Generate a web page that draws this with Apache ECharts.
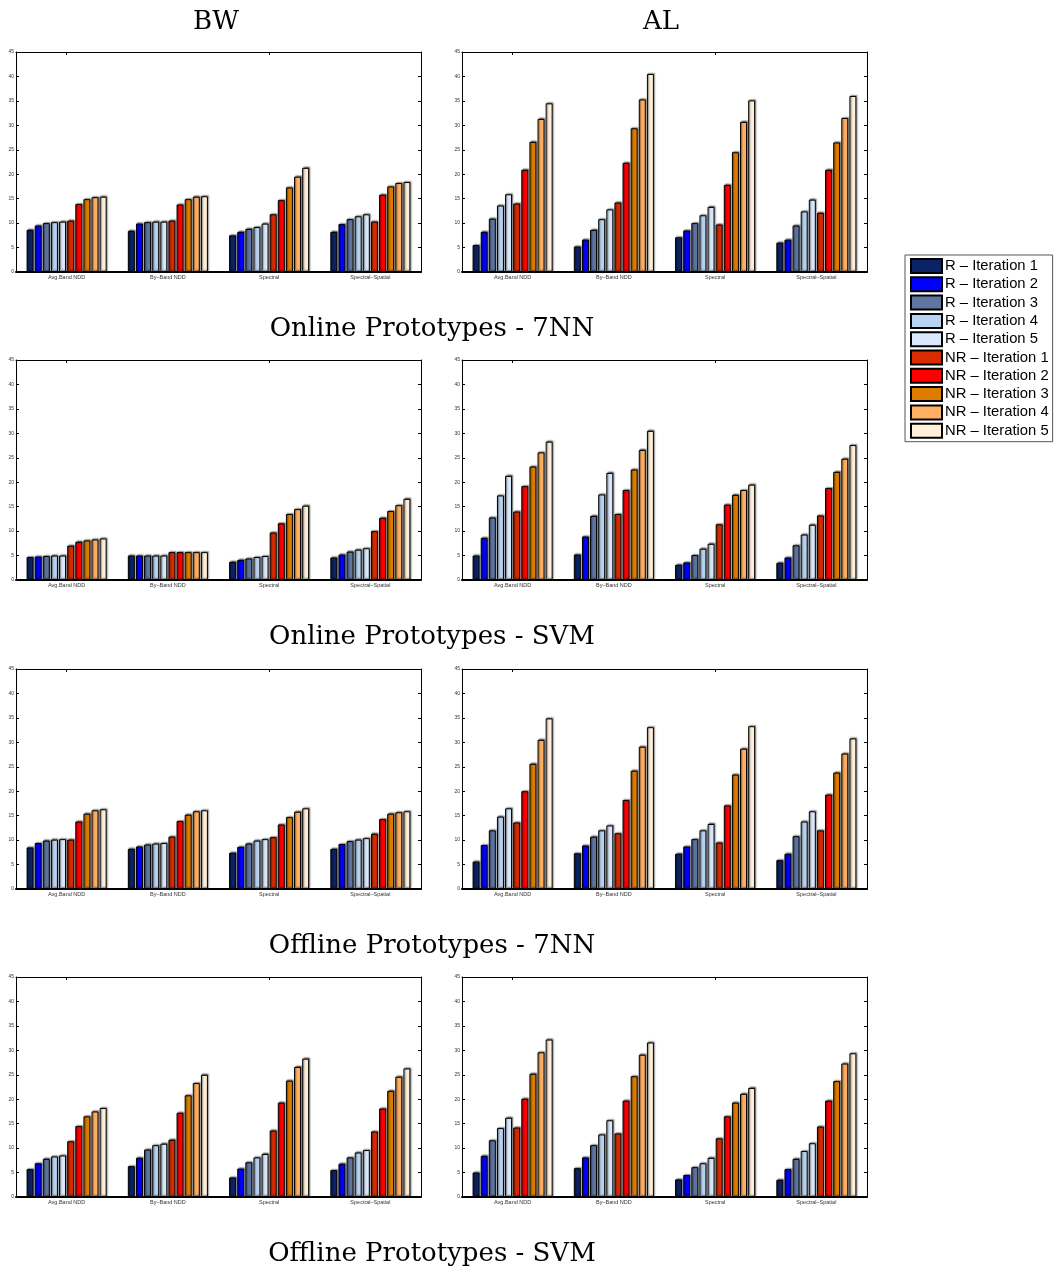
<!DOCTYPE html>
<html>
<head>
<meta charset="utf-8">
<script src="https://cdn.jsdelivr.net/npm/echarts@6/dist/echarts.min.js"></script>
<style>
	html, body { margin: 0; padding: 0; background: #fff; }
	#chart { width: 1056px; height: 1273px; }
</style>
</head>
<body>
<div id="chart"></div>
<script>
// categories on every x axis
var categories = ['Avg.Band NDD', 'By\u2013Band NDD', 'Spectral', 'Spectral\u2013Spatial']
var seriesNames = ['R \u2013 Iteration 1', 'R \u2013 Iteration 2', 'R \u2013 Iteration 3', 'R \u2013 Iteration 4', 'R \u2013 Iteration 5',
	'NR \u2013 Iteration 1', 'NR \u2013 Iteration 2', 'NR \u2013 Iteration 3', 'NR \u2013 Iteration 4', 'NR \u2013 Iteration 5']
var seriesColors = ['#0b2364', '#0000ff', '#5e75a0', '#b8d3f2', '#dbe8fb', '#d92b00', '#ff0000', '#de7c00', '#ffb062', '#fff0da']
var yTicks = [0, 5, 10, 15, 20, 25, 30, 35, 40, 45]
var colTitles = ['BW', 'AL']
var rowTitles = ['Online Prototypes - 7NN', 'Online Prototypes - SVM', 'Offline Prototypes - 7NN', 'Offline Prototypes - SVM']

// one row per category, 10 values per row (R1..R5, NR1..NR5)
var bwOnline7nn = [
	[8.6, 9.5, 10.0, 10.2, 10.3, 10.5, 13.9, 14.9, 15.3, 15.4],
	[8.4, 9.9, 10.2, 10.3, 10.3, 10.5, 13.8, 14.9, 15.4, 15.5],
	[7.5, 8.2, 8.8, 9.2, 9.9, 11.8, 14.7, 17.3, 19.5, 21.3],
	[8.2, 9.8, 10.8, 11.4, 11.8, 10.3, 15.8, 17.5, 18.2, 18.4]
]
var alOnline7nn = [
	[5.5, 8.2, 10.9, 13.6, 15.9, 14.0, 20.9, 26.6, 31.3, 34.5],
	[5.2, 6.6, 8.6, 10.8, 12.8, 14.2, 22.3, 29.4, 35.3, 40.5],
	[7.1, 8.5, 10.0, 11.6, 13.3, 9.7, 17.8, 24.5, 30.7, 35.1],
	[6.0, 6.6, 9.5, 12.4, 14.8, 12.1, 20.9, 26.5, 31.5, 36.0]
]
var bwOnlineSvm = [
	[4.7, 4.8, 4.9, 5.0, 5.0, 7.0, 7.8, 8.1, 8.3, 8.5],
	[5.0, 5.0, 5.0, 5.0, 5.0, 5.7, 5.7, 5.7, 5.7, 5.7],
	[3.7, 4.1, 4.4, 4.7, 4.9, 9.7, 11.6, 13.5, 14.5, 15.2],
	[4.6, 5.2, 5.8, 6.2, 6.5, 10.0, 12.7, 14.1, 15.3, 16.6]
]
var alOnlineSvm = [
	[5.0, 8.6, 12.8, 17.3, 21.3, 14.0, 19.2, 23.2, 26.1, 28.3],
	[5.2, 8.9, 13.1, 17.5, 21.9, 13.5, 18.4, 22.6, 26.6, 30.5],
	[3.1, 3.6, 5.1, 6.4, 7.4, 11.4, 15.4, 17.4, 18.4, 19.5],
	[3.5, 4.6, 7.1, 9.3, 11.3, 13.2, 18.8, 22.1, 24.8, 27.6]
]
var bwOffline7nn = [
	[8.5, 9.4, 9.9, 10.1, 10.2, 10.1, 13.8, 15.4, 16.1, 16.3],
	[8.2, 8.7, 9.1, 9.3, 9.4, 10.7, 13.9, 15.2, 15.9, 16.1],
	[7.4, 8.6, 9.3, 9.9, 10.2, 10.6, 13.2, 14.7, 15.8, 16.5],
	[8.2, 9.2, 9.8, 10.1, 10.4, 11.3, 14.3, 15.4, 15.7, 15.9]
]
var alOffline7nn = [
	[5.6, 9.0, 12.0, 14.8, 16.5, 13.6, 20.0, 25.6, 30.5, 34.9],
	[7.3, 8.9, 10.7, 12.0, 13.0, 11.4, 18.2, 24.2, 29.1, 33.1],
	[7.2, 8.7, 10.2, 12.0, 13.3, 9.5, 17.1, 23.4, 28.7, 33.3],
	[5.9, 7.2, 10.8, 13.8, 15.9, 12.0, 19.3, 23.8, 27.7, 30.8]
]
var bwOfflineSvm = [
	[5.7, 6.9, 7.8, 8.3, 8.5, 11.4, 14.5, 16.5, 17.5, 18.2],
	[6.3, 8.0, 9.7, 10.6, 10.9, 11.7, 17.2, 20.8, 23.3, 25.0],
	[4.0, 5.8, 7.1, 8.1, 8.8, 13.6, 19.3, 23.8, 26.6, 28.3],
	[5.5, 6.8, 8.1, 9.1, 9.6, 13.4, 18.1, 21.7, 24.6, 26.3]
]
var alOfflineSvm = [
	[5.0, 8.4, 11.6, 14.1, 16.2, 14.2, 20.1, 25.2, 29.6, 32.2],
	[5.9, 8.1, 10.6, 12.8, 15.7, 13.0, 19.7, 24.7, 29.1, 31.6],
	[3.6, 4.5, 6.1, 6.9, 8.0, 12.0, 16.5, 19.3, 21.1, 22.3],
	[3.5, 5.7, 7.8, 9.4, 11.0, 14.4, 19.7, 23.7, 27.3, 29.4]
]

// panels in reading order: row by row, BW then AL
var panels = [bwOnline7nn, alOnline7nn, bwOnlineSvm, alOnlineSvm, bwOffline7nn, alOffline7nn, bwOfflineSvm, alOfflineSvm]

var colLeft = [16, 462]
var colTitleX = [211, 656]
var rowTop = [52, 360, 669, 977]
var gridW = 405, gridH = 220
var serif = '"DejaVu Serif", "Liberation Serif", serif'
var sans = '"Liberation Sans", Arial, sans-serif'

var grids = [], xAxes = [], yAxes = [], series = []
var titles = []

colTitles.forEach(function(t, c) {
	titles.push({
		text: t, left: colTitleX[c], top: 4, textAlign: 'center',
		textStyle: { fontFamily: serif, fontSize: 26, fontWeight: 'normal', color: '#000' }
	})
})
rowTitles.forEach(function(t, r) {
	titles.push({
		text: t, left: 427, top: rowTop[r] + gridH + 39, textAlign: 'center',
		textStyle: { fontFamily: serif, fontSize: 26, fontWeight: 'normal', color: '#000' }
	})
})

panels.forEach(function(panel, p) {
	var r = Math.floor(p / 2), c = p % 2
	grids.push({ left: colLeft[c], top: rowTop[r], width: gridW, height: gridH, containLabel: false })
	// bottom x axis with labels
	xAxes.push({
		type: 'category', gridIndex: p, data: categories, position: 'bottom',
		axisLine: { onZero: false, lineStyle: { color: '#000', width: 2 } },
		axisTick: { show: false },
		axisLabel: { fontSize: 5.5, color: '#333', fontFamily: sans, margin: 2 }
	})
	// top x axis, only ticks
	xAxes.push({
		type: 'category', gridIndex: p, data: categories, position: 'top',
		axisLine: { onZero: false, lineStyle: { color: '#000', width: 1 } },
		axisTick: { show: true, inside: true, alignWithLabel: true, length: 3, lineStyle: { color: '#000' } },
		axisLabel: { show: false }
	})
	yAxes.push({
		type: 'value', gridIndex: p, min: yTicks[0], max: yTicks[yTicks.length - 1], interval: 5, position: 'left',
		axisLine: { show: true, onZero: false, lineStyle: { color: '#000', width: 1 } },
		axisTick: { show: true, inside: true, length: 3, lineStyle: { color: '#000' } },
		axisLabel: { fontSize: 5, color: '#333', fontFamily: sans, margin: 2 },
		splitLine: { show: false }
	})
	yAxes.push({
		type: 'value', gridIndex: p, min: yTicks[0], max: yTicks[yTicks.length - 1], interval: 5, position: 'right',
		axisLine: { show: true, onZero: false, lineStyle: { color: '#000', width: 1 } },
		axisTick: { show: true, inside: true, length: 3, lineStyle: { color: '#000' } },
		axisLabel: { show: false },
		splitLine: { show: false }
	})
	seriesNames.forEach(function(name, s) {
		series.push({
			name: name,
			type: 'bar',
			xAxisIndex: p * 2,
			yAxisIndex: p * 2,
			barWidth: 7,
			barGap: '16%',
			data: panel.map(function(row) { return row[s] }),
			itemStyle: {
				color: seriesColors[s],
				borderColor: '#000',
				borderWidth: 1,
				shadowColor: 'rgba(0,0,0,0.55)',
				shadowBlur: 1.5,
				shadowOffsetX: 1,
				shadowOffsetY: -1
			}
		})
	})
})

var chart = echarts.init(document.getElementById('chart'), null, { renderer: 'canvas' })
chart.setOption({
	animation: false,
	title: titles,
	grid: grids,
	xAxis: xAxes,
	yAxis: yAxes,
	legend: {
		orient: 'vertical',
		left: 905,
		top: 255,
		data: seriesNames,
		icon: 'rect',
		itemWidth: 31,
		itemHeight: 14,
		itemGap: 2.3,
		padding: [3, 4, 3, 5],
		borderColor: '#555',
		borderWidth: 1,
		textStyle: { fontFamily: sans, fontSize: 14.8, color: '#000', padding: [0, 0, 0, -2] },
		selectedMode: false
	},
	series: series
})
</script>
</body>
</html>
